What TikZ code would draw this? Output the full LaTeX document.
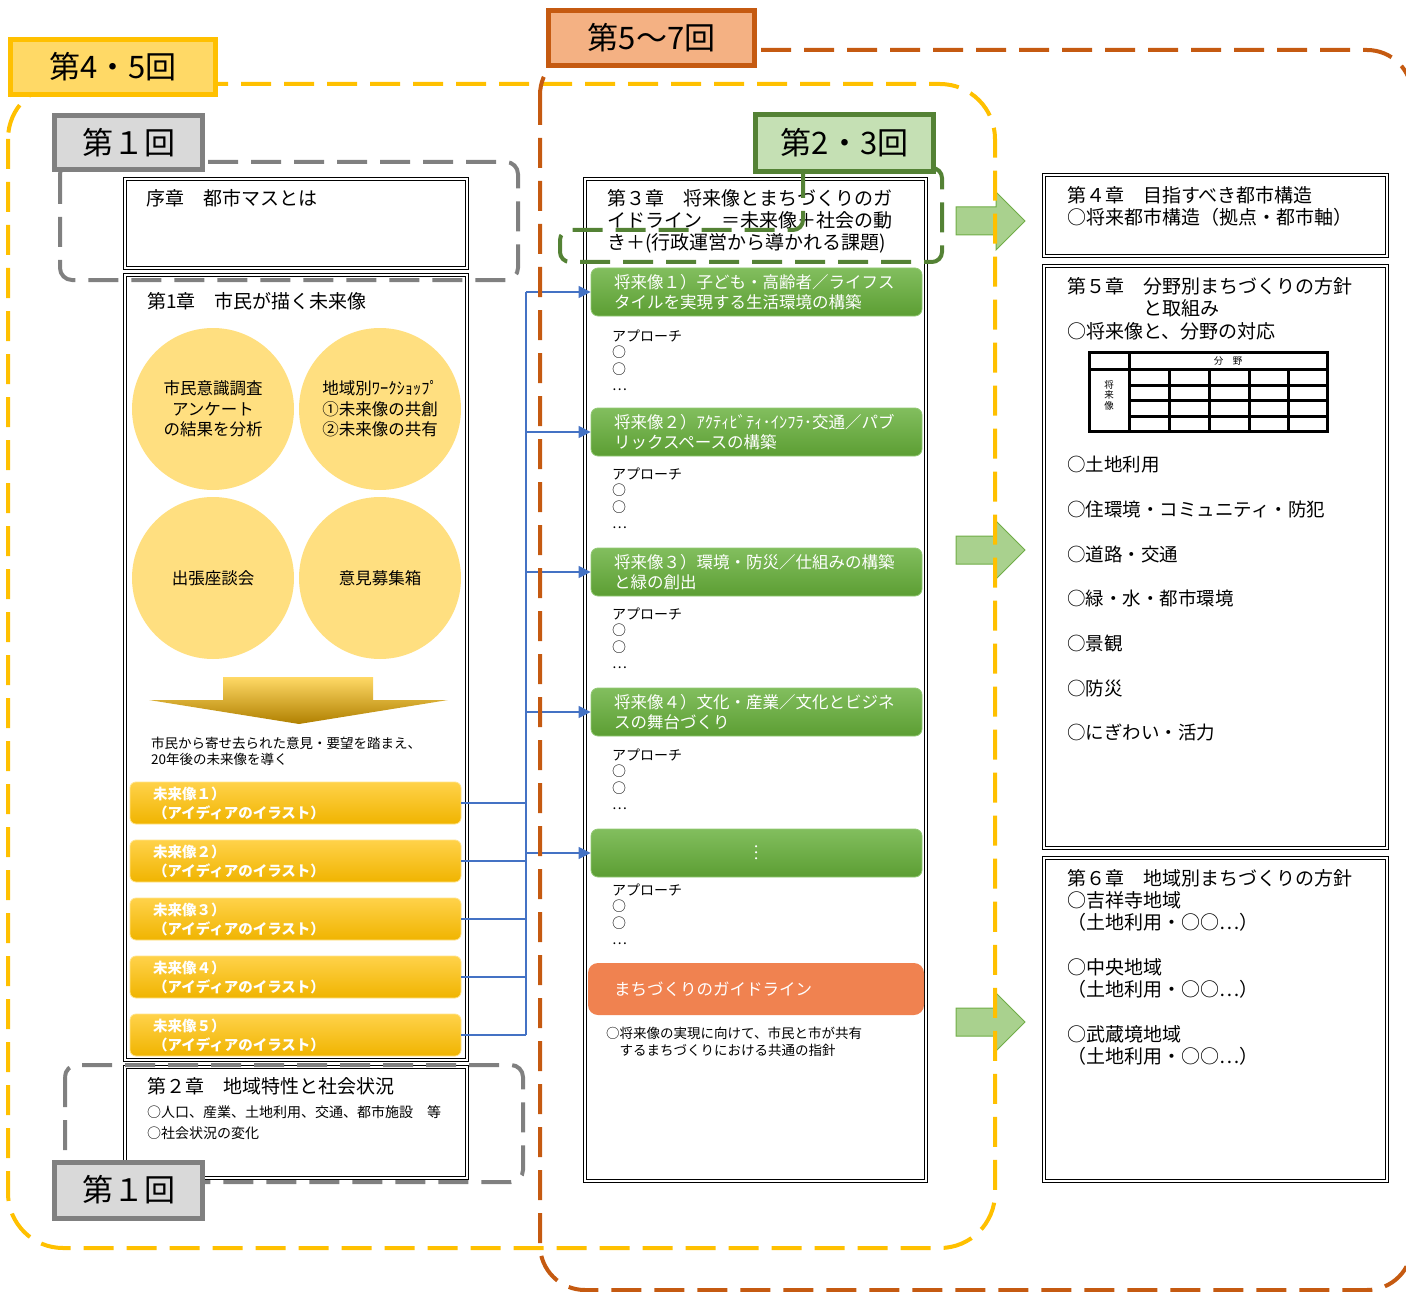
\documentclass[tikz,border=0pt]{standalone}
\usepackage{fontspec}
\setmainfont{Noto Sans CJK JP}
\usetikzlibrary{arrows.meta}
\newcommand\fsz[2]{\fontsize{#1}{#2}\selectfont}
\definecolor{ylwLine}{HTML}{FFC000}
\definecolor{ylwFill}{HTML}{FFD966}
\definecolor{orgLine}{HTML}{C55A11}
\definecolor{orgFill}{HTML}{F4B183}
\definecolor{gryLine}{HTML}{808080}
\definecolor{gryFill}{HTML}{D9D9D9}
\definecolor{grnLine}{HTML}{548235}
\definecolor{grnFill}{HTML}{C5E0B4}
\definecolor{circFill}{HTML}{FFDF80}
\definecolor{blueLine}{HTML}{4472C4}
\definecolor{arrFill}{HTML}{A9D18E}
\definecolor{arrLine}{HTML}{70AD47}
\definecolor{barOrange}{HTML}{F08250}
\definecolor{ybTop}{HTML}{FFD24A}
\definecolor{ybBot}{HTML}{F0B400}
\definecolor{ybLine}{HTML}{FFE38A}
\definecolor{gbTop}{HTML}{82BE5E}
\definecolor{gbBot}{HTML}{5C9E33}
\definecolor{gbLine}{HTML}{92C874}
\definecolor{arrMid}{HTML}{F0B400}
\definecolor{arrBot}{HTML}{B08000}
\begin{document}
\begin{tikzpicture}[x=1pt,y=-1pt,
  dblbox/.style={draw=black,double=white,double distance=1.6pt,line width=0.9pt,inner sep=0pt},
  txt/.style={inner sep=0pt,anchor=north west,align=left},
  lbl/.style={line width=5pt,inner sep=0pt,font=\fsz{31}{33}},
  reg/.style={line width=4pt,dash pattern=on 30pt off 13pt},
  circnode/.style={circle,fill=circFill,inner sep=0pt,minimum size=162pt,align=center,font=\fsz{16.5}{20.5}},
  yelbar/.style={rounded corners=6pt,top color=ybTop,bottom color=ybBot,draw=ybLine,line width=0.8pt,
    minimum width=331pt,minimum height=42pt,text width=285pt,align=left,text=white,inner sep=0pt,
    font=\bfseries\fsz{14.5}{19}},
  grnbar/.style={rounded corners=7pt,top color=gbTop,bottom color=gbBot,draw=gbLine,line width=0.8pt,
    minimum width=331pt,minimum height=48pt,text width=285pt,align=left,text=white,inner sep=0pt,
    font=\fsz{16.5}{20}},
  conn/.style={draw=blueLine,line width=1.5pt},
  blockarrow/.style={fill=arrFill,draw=arrLine,line width=1pt}
]
\useasboundingbox (0,0) rectangle (1406,1292);

% green block arrows
\foreach \cy in {221,550,1022}{
  \draw[blockarrow] (956,\cy-14) -- (996,\cy-14) -- (996,\cy-29) -- (1025,\cy) -- (996,\cy+29) -- (996,\cy+14) -- (956,\cy+14) -- cycle;
}

% chapter boxes
\node[dblbox,minimum width=342pt,minimum height=89pt] (c0) at (296,223.5) {};
\node[dblbox,minimum width=342pt,minimum height=785pt] (c1) at (296,667.5) {};
\node[dblbox,minimum width=342pt,minimum height=111pt] (c2) at (296,1122.5) {};
\node[dblbox,minimum width=341pt,minimum height=1002pt] (c3) at (755.5,680) {};
\node[dblbox,minimum width=343pt,minimum height=81pt] (c4) at (1215.5,215.5) {};
\node[dblbox,minimum width=343pt,minimum height=582pt] (c5) at (1215.5,557) {};
\node[dblbox,minimum width=343pt,minimum height=323pt] (c6) at (1215.5,1019.5) {};

% left column texts
\node[txt,font=\fsz{19}{22}] (t0) at (146,189) {序章　都市マスとは};
\node[txt,font=\fsz{19}{22}] (t1) at (147,292) {第1章　市民が描く未来像};

\node[circnode] (k1) at (213,409) {市民意識調査\\アンケート\\の結果を分析};
\node[circnode] (k2) at (380,409) {地域別ﾜｰｸｼｮｯﾌﾟ\\①未来像の共創\\②未来像の共有};
\node[circnode] (k3) at (213,578) {出張座談会};
\node[circnode] (k4) at (380,578) {意見募集箱};

\shade[top color=ylwFill,middle color=arrMid,bottom color=arrBot]
  (223,677) -- (373,677) -- (373,700) -- (448,700) -- (299,724) -- (149,700) -- (223,700) -- cycle;

\node[txt,font=\fsz{13.5}{16}] (tnote) at (151,736.7) {市民から寄せ去られた意見・要望を踏まえ、\\20年後の未来像を導く};

\node[yelbar] (y1) at (295.5,803) {未来像１）\\（アイディアのイラスト）};
\node[yelbar] (y2) at (295.5,861) {未来像２）\\（アイディアのイラスト）};
\node[yelbar] (y3) at (295.5,919) {未来像３）\\（アイディアのイラスト）};
\node[yelbar] (y4) at (295.5,977) {未来像４）\\（アイディアのイラスト）};
\node[yelbar] (y5) at (295.5,1035) {未来像５）\\（アイディアのイラスト）};

\node[txt,font=\fsz{19}{22}] (t2) at (147,1077) {第２章　地域特性と社会状況};
\node[txt,font=\fsz{14}{21.5}] (t2b) at (147,1105.4) {○人口、産業、土地利用、交通、都市施設　等\\○社会状況の変化};

% middle column
\node[txt,font=\fsz{19}{22}] (t3) at (607,189) {第３章　将来像とまちづくりのガ\\イドライン　＝未来像＋社会の動\\き＋(行政運営から導かれる課題)};

\node[grnbar] (g1) at (756.5,292) {将来像１）子ども・高齢者／ライフス\\タイルを実現する生活環境の構築};
\node[grnbar] (g2) at (756.5,432) {将来像２）ｱｸﾃｨﾋﾞﾃｨ･ｲﾝﾌﾗ･交通／パブ\\リックスペースの構築};
\node[grnbar] (g3) at (756.5,572) {将来像３）環境・防災／仕組みの構築\\と緑の創出};
\node[grnbar] (g4) at (756.5,712) {将来像４）文化・産業／文化とビジネ\\スの舞台づくり};
\node[grnbar] (g5) at (756.5,853) {};
\node[rotate=90,inner sep=0pt,text=white,font=\fsz{16}{18}] (g5dots) at (g5.center) {…};

\foreach \n/\yy in {a1/329.4,a2/467.4,a3/607.4,a4/748.4,a5/883.4}{
  \node[txt,font=\fsz{14}{16.5}] (\n) at (612,\yy) {アプローチ\\○\\○\\…};
}

\node[rounded corners=10pt,fill=barOrange,minimum width=336pt,minimum height=52pt,text width=284pt,
  align=left,inner sep=0pt,text=white,font=\fsz{16.5}{20}] (ob) at (756,989) {まちづくりのガイドライン};
\node[txt,font=\fsz{13.5}{17}] (tg) at (606,1026.7) {○将来像の実現に向けて、市民と市が共有\\　するまちづくりにおける共通の指針};

% connectors
\coordinate (bus) at (526,0);
\foreach \i in {1,...,5}{
  \draw[conn] (y\i.east) -- (y\i.east -| bus);
  \draw[conn,-{Triangle[length=12pt,width=12pt]}] (g\i.west -| bus) -- (g\i.west);
}
\draw[conn] (g1.west -| bus) -- (y5.east -| bus);

% right column
\node[txt,font=\fsz{19}{22}] (t4) at (1067,186) {第４章　目指すべき都市構造\\○将来都市構造（拠点・都市軸）};
\node[txt,font=\fsz{19}{22.5}] (t5) at (1067,277) {第５章　分野別まちづくりの方針\\　　　　と取組み\\○将来像と、分野の対応};

\draw[line width=3pt] (1089,352) rectangle (1327,431);
\draw[line width=3pt] (1089,369) -- (1327,369);
\draw[line width=3pt] (1129,352) -- (1129,431);
\foreach \yy in {385,400,416}{\draw[line width=3pt] (1129,\yy) -- (1327,\yy);}
\foreach \xx in {1169,1209,1249,1288}{\draw[line width=3pt] (\xx,369) -- (\xx,431);}
\node[inner sep=0pt,font=\fsz{9.5}{10}] (th) at (1228,360.5) {分　野};
\node[inner sep=0pt,align=center,font=\fsz{9.5}{10.5}] (tv) at (1109,395) {将\\来\\像};

\node[txt,font=\fsz{18.5}{44.7}] (t5l) at (1067,456) {○土地利用\\○住環境・コミュニティ・防犯\\○道路・交通\\○緑・水・都市環境\\○景観\\○防災\\○にぎわい・活力};

\node[txt,font=\fsz{19}{22.3}] (t6) at (1067,869) {第６章　地域別まちづくりの方針\\○吉祥寺地域\\（土地利用・○○…）\\[22.3pt]○中央地域\\（土地利用・○○…）\\[22.3pt]○武蔵境地域\\（土地利用・○○…）};

% dashed regions
\draw[reg,draw=ylwLine,rounded corners=55pt] (8,84) rectangle (995,1248);
\draw[reg,draw=orgLine,rounded corners=45pt] (540,50) rectangle (1412,1290);
\draw[reg,draw=gryLine,rounded corners=12pt] (60,162) rectangle (518,280);
\draw[reg,draw=gryLine,rounded corners=12pt] (65,1065) rectangle (523,1182);
\draw[reg,draw=grnLine,rounded corners=10pt] (803,168) -- (803,230) -- (560,230) -- (560,262) -- (942,262) -- (942,168) -- (925,168);

% session labels
\node[lbl,draw=ylwLine,fill=ylwFill,minimum width=205pt,minimum height=55pt] (L45) at (113,67) {第4・5回};
\node[lbl,draw=orgLine,fill=orgFill,minimum width=206pt,minimum height=55pt] (L57) at (651.5,38) {第5～7回};
\node[lbl,draw=gryLine,fill=gryFill,minimum width=148pt,minimum height=54pt] (L1a) at (128.5,142.5) {第１回};
\node[lbl,draw=gryLine,fill=gryFill,minimum width=148pt,minimum height=56pt] (L1b) at (128.5,1190) {第１回};
\node[lbl,draw=grnLine,fill=grnFill,minimum width=178pt,minimum height=57pt] (L23) at (844.5,143) {第2・3回};
\end{tikzpicture}
\end{document}
